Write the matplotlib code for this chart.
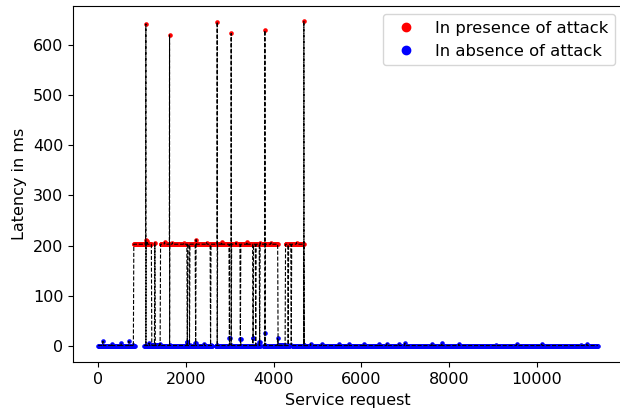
import numpy as np
import matplotlib
matplotlib.use("Agg")
import matplotlib.pyplot as plt
from matplotlib.lines import Line2D

# ---------------- data ----------------
# Latency in absence of attack (blue): runs of requests and a few visible bumps
normal_run_start = [0, 1049, 2677, 3763, 4424]
normal_run_end = [837, 2600, 3704, 4365, 11400]
normal_level = 1.5
normal_bump_x = [107, 306, 525, 700, 1160, 1414, 2030, 2221, 2420,
                 2997, 3247, 3532, 3681, 3802, 4098,
                 4844, 5101, 5489, 5717, 6059, 6401, 6583, 6857, 6994,
                 7610, 7838, 8226, 9070, 9549, 10119, 11008, 11145]
normal_bump_y = [10, 5, 6, 10, 6, 5, 8, 6, 5,
                 16, 14, 16, 8, 26, 16,
                 5, 4, 5, 4, 5, 4, 5, 4, 6,
                 5, 6, 4, 3, 4, 4, 3, 4]

# Latency in presence of attack: plateau runs, dips, spikes
attack_first, attack_last = 803, 4700
attack_run_start = [805, 1414, 4269]
attack_run_end = [1213, 4098, 4691]
attack_level = 203
attack_low = 2
attack_bump_x = [1088, 1110, 1290, 1510, 1690, 1950, 2230, 2470, 2810, 3140, 3390, 3690, 3940, 4330, 4520]
attack_bump_y = [212, 209, 206, 207, 206, 205, 212, 206, 207, 206, 207, 206, 206, 208, 206]
dip_x = [2030, 2080, 2221, 2563, 2997, 3247, 3532, 3596, 3681, 4331, 4401]
dip_y = [8, 3, 6, 3, 16, 14, 16, 3, 8, 3, 3]
spike_x = [1088, 1628, 2714, 3033, 3802, 4691]
spike_y = [641, 619, 645, 622, 628, 646]

step = 10

# ---------------- build series ----------------
nx, ny = [], []
for s, e in zip(normal_run_start, normal_run_end):
    xs = list(range(s, e + 1, step))
    nx += xs + [np.nan]
    ny += [normal_level] * len(xs) + [np.nan]
nx = np.array(nx, dtype=float)
ny = np.array(ny, dtype=float)
for bx, by in zip(normal_bump_x, normal_bump_y):
    i = np.nanargmin(np.abs(nx - bx))
    ny[i] = by

ax_ = np.arange(attack_first, attack_last + 1, step).astype(float)
ay_ = np.full(ax_.shape, float(attack_low))
for s, e in zip(attack_run_start, attack_run_end):
    ay_[(ax_ >= s) & (ax_ <= e)] = attack_level
for bx, by in zip(attack_bump_x, attack_bump_y):
    ay_[np.argmin(np.abs(ax_ - bx))] = by
for dx, dy in zip(dip_x, dip_y):
    ay_[np.argmin(np.abs(ax_ - dx))] = dy
ax_l = list(ax_)
ay_l = list(ay_)
for sx, sy in sorted(zip(spike_x, spike_y), reverse=True):
    i = int(np.argmin(np.abs(ax_ - sx)))
    ax_l.insert(i + 1, sx)
    ay_l.insert(i + 1, sy)
    ax_l.insert(i + 2, sx + 1)
    ay_l.insert(i + 2, attack_low)
ax_ = np.array(ax_l)
ay_ = np.array(ay_l)
high = ay_ > 100

# ---------------- plot ----------------
plt.rcParams['font.family'] = ['DejaVu Sans']
fs = 11.5
fig = plt.figure(figsize=(6.2, 4.17), dpi=100)
# axes runs slightly past the right edge of the image, as in the reference crop
ax = fig.add_axes([0.118, 0.131, 0.887, 0.855])

ms = 3.3
ax.plot(ax_[high], ay_[high], 'o', color='red', ms=ms, mec='none', zorder=2)
ax.plot(ax_[~high], ay_[~high], 'o', color='blue', ms=ms, mec='none', zorder=2)
ax.plot(nx, ny, 'o', color='blue', ms=ms, mec='none', zorder=2)
ax.plot(ax_, ay_, '--', color='black', lw=0.8, zorder=3)
ax.plot(nx, ny, '--', color='black', lw=0.8, zorder=3)

ax.set_xlim(-570, 11970)
ax.set_ylim(-32, 677)
ax.set_xlabel('Service request', fontsize=fs)
ax.set_ylabel('Latency in ms', fontsize=fs)
ax.tick_params(labelsize=fs)
ax.set_xticks([0, 2000, 4000, 6000, 8000, 10000])
ax.set_yticks([0, 100, 200, 300, 400, 500, 600])

handles = [Line2D([], [], marker='o', ls='', color='red', ms=6),
           Line2D([], [], marker='o', ls='', color='blue', ms=6)]
ax.legend(handles, ['In presence of attack', 'In absence of attack'],
          loc='upper right', fontsize=11.75)

fig.savefig('out.png', dpi=100)
